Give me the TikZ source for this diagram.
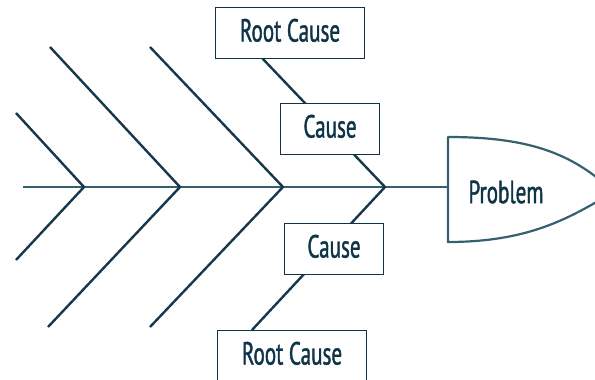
\documentclass[tikz,border=0pt]{standalone}
\usepackage{fontspec}
\setmainfont{PT Sans}[FakeStretch=0.66,FakeBold=1.2]
\begin{document}
\definecolor{ink}{HTML}{0F3447}
\definecolor{bone}{HTML}{17374B}
\definecolor{spinec}{HTML}{35606E}
\begin{tikzpicture}[x=1pt,y=-1pt,
  rib/.style={draw=bone,line width=2.4pt},
  spineline/.style={draw=spinec,line width=2.6pt},
  labelfont/.style={text=ink,font=\fontsize{32}{32}\selectfont},
  causebox/.style={labelfont,draw=ink,line width=1.1pt,fill=white,inner sep=0pt,
    anchor=north west,minimum height=51pt,text height=21pt,text depth=4pt},
  headshape/.style={draw=spinec,line width=2.2pt,fill=white,line join=round}]
\useasboundingbox (0,0) rectangle (595,380);
\begin{scope}
\clip (0,0) rectangle (595,380);
% junctions along the spine
\coordinate (j1) at (84,187);
\coordinate (j2) at (180,187);
\coordinate (j3) at (283,187);
\coordinate (j4) at (385,187);
\coordinate (tail) at (23,187);
% free ends of the ribs
\coordinate (u1) at (16,113);
\coordinate (l1) at (16,260);
\coordinate (u2) at (50,47);
\coordinate (l2) at (48,327);
\coordinate (u3) at (150,47);
\coordinate (l3) at (150,327);
\coordinate (u4) at (262,58);
\coordinate (l4) at (252,330);
% head of the fish
\coordinate (hl) at (448,187);
\path[headshape] (448,137) .. controls (525,137) and (565,152) .. (600,180)
  -- (600,200) .. controls (565,220) and (525,242) .. (448,242) -- cycle;
\node[labelfont] (problem) at (506,192) {Problem};
% spine
\draw[spineline] (tail) -- (hl);
% ribs
\draw[rib] (u1) -- (j1) -- (l1);
\draw[rib] (u2) -- (j2) -- (l2);
\draw[rib] (u3) -- (j3) -- (l3);
\draw[rib] (u4) -- (j4) -- (l4);
% cause boxes
\node[causebox,minimum width=149pt] (rc1) at (215,7) {Root Cause};
\node[causebox,minimum width=99pt] (c1) at (280,103) {Cause};
\node[causebox,minimum width=99pt] (c2) at (284,223) {Cause};
\node[causebox,minimum width=149pt] (rc2) at (217,330) {Root Cause};
\end{scope}
\end{tikzpicture}
\end{document}
